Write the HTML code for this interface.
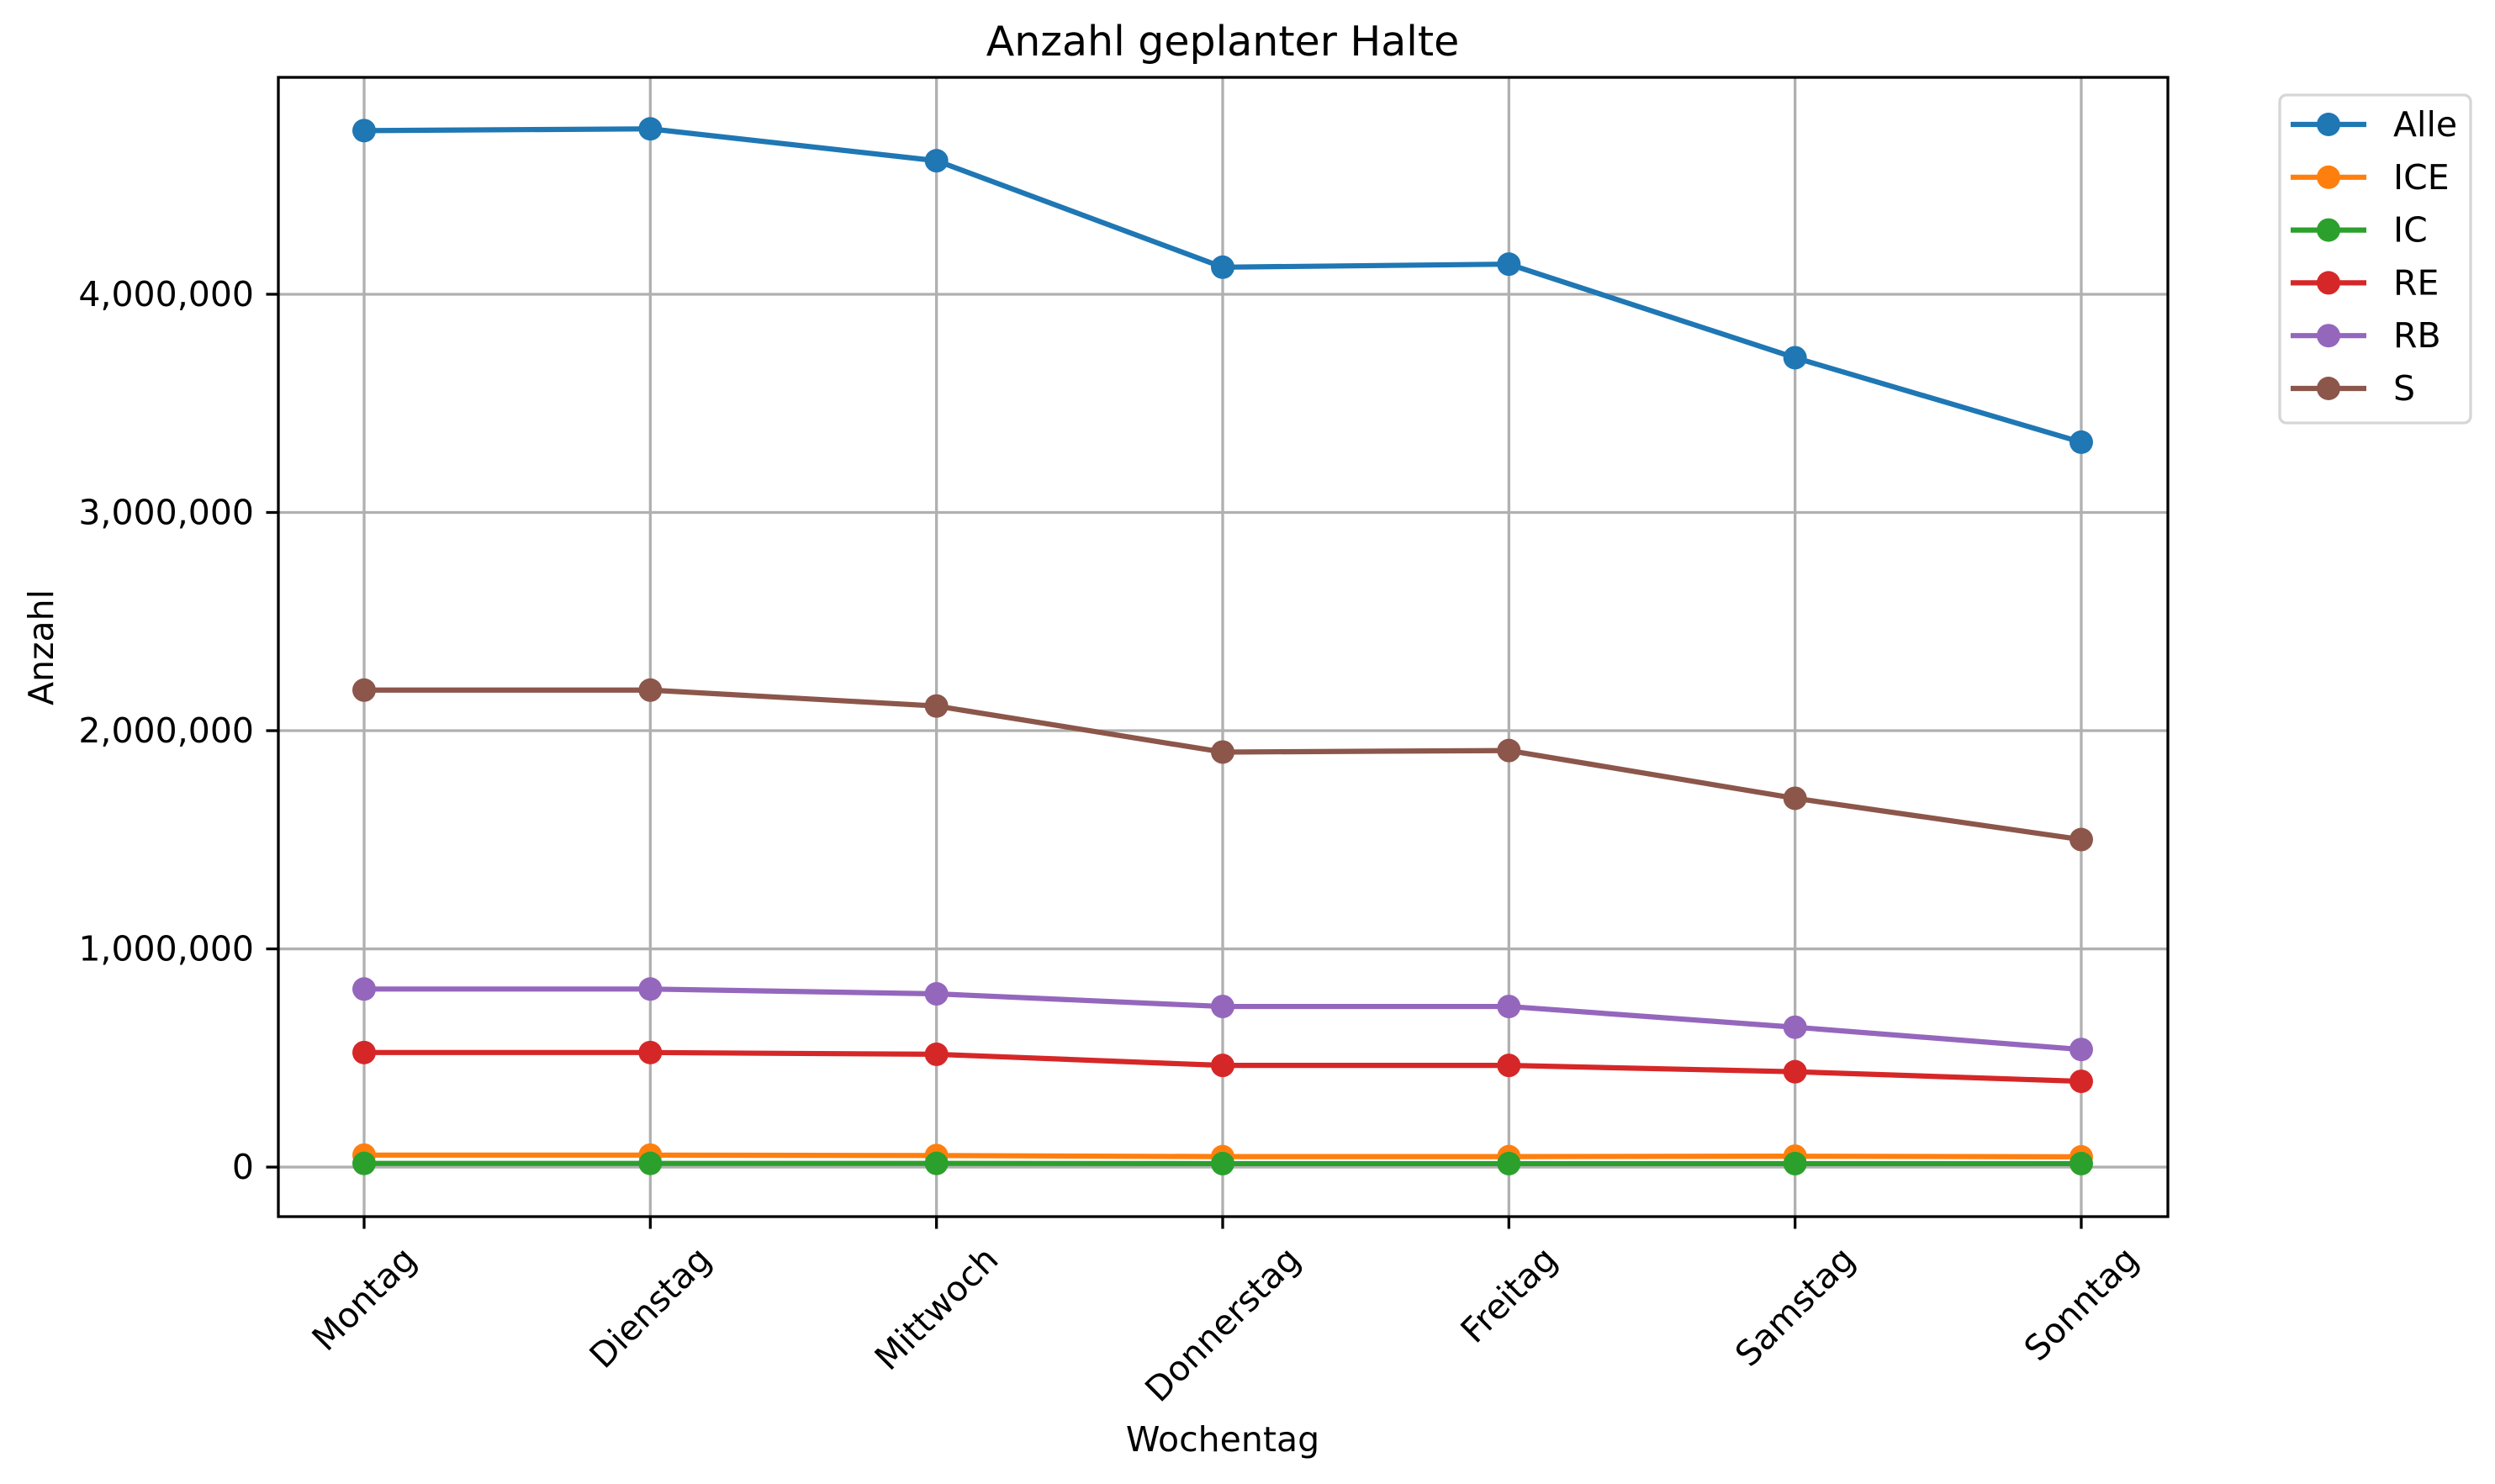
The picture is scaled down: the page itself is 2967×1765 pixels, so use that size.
<!DOCTYPE html>
<html><head><meta charset="utf-8"><style>
html,body{margin:0;padding:0;background:#fff}
svg{display:block;font-family:"DejaVu Sans","Liberation Sans",sans-serif}
</style></head><body>
<svg id="chart" width="2967" height="1765" viewBox="0 0 2967 1765" xmlns="http://www.w3.org/2000/svg">
<rect width="2967" height="1765" fill="#fff"/>
<g id="grid"></g>
<g id="series"></g>
<rect x="331" y="92" width="2247" height="1355" fill="none" stroke="#000" stroke-width="3.3"/>
<g id="axes"></g>
<text x="1454" y="66" font-size="49" text-anchor="middle">Anzahl geplanter Halte</text>
<text x="1454" y="1726" font-size="41" text-anchor="middle">Wochentag</text>
<text x="0" y="0" font-size="41" text-anchor="middle" transform="translate(63,770) rotate(-90)">Anzahl</text>
<g id="legend">
<rect x="2711" y="113" width="227" height="390" rx="8" fill="#fff" stroke="#d6d6d6" stroke-width="3.3"/>
</g>
</svg>
<script>
const categories = ["Montag","Dienstag","Mittwoch","Donnerstag","Freitag","Samstag","Sonntag"];
const seriesNames = ["Alle","ICE","IC","RE","RB","S"];
const alle = [4750000,4758000,4612000,4124000,4138000,3709000,3322000];
const ice = [55000,55000,53000,48000,48000,50000,47000];
const ic = [17000,17000,17000,16000,16000,16000,16000];
const re = [525000,525000,517000,466000,466000,437000,393000];
const rb = [816000,816000,794000,736000,736000,641000,539000];
const s = [2186000,2186000,2113000,1902000,1909000,1690000,1501000];
const yTicks = [0,1000000,2000000,3000000,4000000];
const yTickLabels = ["0","1,000,000","2,000,000","3,000,000","4,000,000"];
const colors = ["#1f77b4","#ff7f0e","#2ca02c","#d62728","#9467bd","#8c564b"];

const NS="http://www.w3.org/2000/svg";
const L=331,R=2578,T=92,B=1447;
const yMin=-227000,yMax=4994000;
const x0=433,dx=340.33;
const MR=14;
function xs(i){return x0+i*dx;}
function ys(v){return B-(v-yMin)/(yMax-yMin)*(B-T);}
function mk(tag,attrs,parent){const e=document.createElementNS(NS,tag);for(const k in attrs)e.setAttribute(k,attrs[k]);parent.appendChild(e);return e;}
const grid=document.getElementById('grid'),axes=document.getElementById('axes'),ser=document.getElementById('series'),leg=document.getElementById('legend');

categories.forEach((c,i)=>{
  const g=mk('line',{x1:xs(i),x2:xs(i),y1:T,y2:B,stroke:'#b0b0b0','stroke-width':3.3},grid);
  
  
  const t=mk('line',{x1:xs(i),x2:xs(i),y1:B,y2:B+14.5,stroke:'#000','stroke-width':3.3},axes);
  
  
  const lab=mk('text',{'font-size':41,'text-anchor':'middle','dominant-baseline':'central'},axes);
  lab.textContent=c;
  
  
  const w=lab.getComputedTextLength();
  const h=(w+41)*Math.SQRT1_2;
  const cy=B+29+h/2;
  lab.setAttribute('transform','translate('+xs(i)+','+cy+') rotate(-45)');
});
yTicks.forEach((v,i)=>{
  const g=mk('line',{x1:L,x2:R,y1:ys(v),y2:ys(v),stroke:'#b0b0b0','stroke-width':3.3},grid);
  
  
  const t=mk('line',{x1:L-14.5,x2:L,y1:ys(v),y2:ys(v),stroke:'#000','stroke-width':3.3},axes);
  
  
  const lab=mk('text',{x:L-29,y:ys(v),'font-size':41,'text-anchor':'end','dominant-baseline':'central'},axes);
  lab.textContent=yTickLabels[i];
  
  
});
const data=[alle,ice,ic,re,rb,s];
data.forEach((arr,k)=>{
  const g=mk('g',{},ser);
  
  
  const pl=mk('polyline',{points:arr.map((v,i)=>xs(i)+','+ys(v)).join(' '),fill:'none',stroke:colors[k],'stroke-width':6.2,'stroke-linejoin':'round','stroke-linecap':'square'},g);
  
  
  arr.forEach((v,i)=>{
    const c=mk('circle',{cx:xs(i),cy:ys(v),r:MR,fill:colors[k]},g);
    
    
  });
  const ly=148+k*62.8;
  const e=mk('g',{},leg);
  
  
  mk('line',{x1:2724,x2:2814,y1:ly,y2:ly,stroke:colors[k],'stroke-width':6.2},e);
  mk('circle',{cx:2769,cy:ly,r:MR,fill:colors[k]},e);
  const tx=mk('text',{x:2846,y:ly,'font-size':41,'dominant-baseline':'central'},e);
  tx.textContent=seriesNames[k];
});
</script>
</body></html>
